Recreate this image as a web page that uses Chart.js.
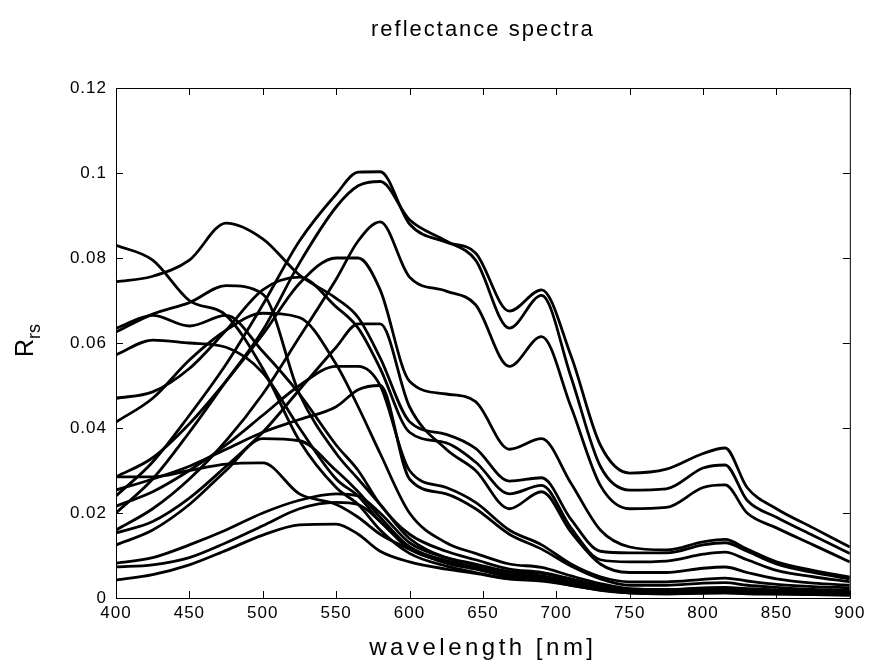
<!DOCTYPE html>
<html>
<head>
<meta charset="UTF-8">
<title>reflectance spectra</title>
<script src="https://cdn.jsdelivr.net/npm/chart.js"></script>
<style>
    body { margin: 0; background: #fff; }
    #wrap { width: 869px; height: 669px; }
</style>
</head>
<body>
<div id="wrap"><canvas id="grafico"></canvas></div>
<script>
// wavelength grid [nm]
const wavelengths = [400,425,450,475,500,525,550,565,580,600,625,645,668,690,710,730,750,775,800,815,830,850,875,900];
const xTicks = [400,450,500,550,600,650,700,750,800,850,900];
const yTicks = [0,0.02,0.04,0.06,0.08,0.1,0.12];

// Rrs spectra
const specA1 = [0.024,0.032,0.043,0.055,0.069,0.084,0.095,0.1002,0.1003,0.088,0.0837,0.0812,0.0675,0.0725,0.057,0.036,0.0294,0.0303,0.034,0.0353,0.026,0.021,0.0165,0.012];
const specA2 = [0.020,0.028,0.039,0.051,0.063,0.0788,0.092,0.097,0.098,0.089,0.084,0.0795,0.0635,0.0712,0.052,0.031,0.0254,0.0257,0.0306,0.0313,0.023,0.019,0.0147,0.0105];
const specA3 = [0.016,0.021,0.028,0.037,0.048,0.0614,0.075,0.084,0.0885,0.0755,0.0722,0.069,0.0545,0.0615,0.045,0.0265,0.021,0.0213,0.026,0.0266,0.020,0.0165,0.0125,0.0085];
const specF = [0.0285,0.033,0.041,0.051,0.062,0.074,0.080,0.080,0.0725,0.051,0.048,0.0462,0.035,0.0375,0.027,0.016,0.012,0.0113,0.0132,0.0138,0.0115,0.0085,0.0065,0.0049];
const specC1 = [0.0744,0.0757,0.0795,0.0882,0.0845,0.076,0.0705,0.066,0.0565,0.0415,0.0385,0.0352,0.0275,0.0283,0.0185,0.011,0.0106,0.0106,0.0125,0.013,0.011,0.008,0.006,0.0045];
const specC2 = [0.047,0.0485,0.054,0.063,0.0725,0.0755,0.0685,0.0635,0.054,0.039,0.0365,0.032,0.0245,0.0265,0.0165,0.009,0.0085,0.0087,0.0103,0.0108,0.009,0.0065,0.005,0.0038];
const specC3 = [0.0153,0.018,0.0235,0.031,0.039,0.049,0.059,0.0645,0.0645,0.045,0.035,0.030,0.021,0.025,0.0155,0.008,0.006,0.006,0.007,0.0073,0.006,0.0045,0.0035,0.003];
const specC4 = [0.0216,0.025,0.030,0.036,0.043,0.050,0.0545,0.0545,0.050,0.030,0.026,0.0225,0.016,0.0125,0.008,0.005,0.0038,0.0038,0.0044,0.0047,0.004,0.0032,0.0027,0.0024];
const specC5 = [0.0254,0.028,0.031,0.035,0.039,0.042,0.045,0.049,0.050,0.028,0.0245,0.021,0.015,0.0115,0.0075,0.0045,0.003,0.003,0.0035,0.0036,0.003,0.0025,0.002,0.0018];
const specB1 = [0.083,0.0795,0.070,0.0665,0.054,0.037,0.026,0.022,0.016,0.0105,0.0075,0.006,0.0045,0.004,0.003,0.0018,0.0012,0.001,0.0011,0.0012,0.001,0.0009,0.0008,0.0007];
const specM1 = [0.0626,0.0668,0.0695,0.0735,0.0715,0.048,0.034,0.028,0.022,0.014,0.0095,0.0078,0.006,0.0052,0.0038,0.0024,0.0015,0.0013,0.0015,0.0016,0.0014,0.0012,0.001,0.0009];
const specM2 = [0.0635,0.0665,0.064,0.0665,0.058,0.048,0.036,0.030,0.022,0.015,0.011,0.009,0.0068,0.006,0.0045,0.003,0.002,0.0018,0.002,0.0021,0.0019,0.0016,0.0014,0.0012];
const specM3 = [0.0572,0.0607,0.060,0.059,0.053,0.040,0.028,0.024,0.018,0.012,0.0085,0.007,0.0052,0.0045,0.0033,0.002,0.0012,0.001,0.0012,0.0012,0.0011,0.001,0.0008,0.0007];
const specM4 = [0.0414,0.047,0.056,0.063,0.067,0.066,0.055,0.045,0.034,0.020,0.013,0.0105,0.008,0.0072,0.0052,0.0034,0.0022,0.002,0.0024,0.0025,0.0022,0.0019,0.0016,0.0014];
const specD1 = [0.0285,0.0285,0.030,0.0315,0.0318,0.0245,0.022,0.019,0.015,0.0115,0.0082,0.0068,0.005,0.0045,0.0032,0.002,0.0013,0.0011,0.0013,0.0014,0.0012,0.0011,0.0009,0.0008];
const specD2 = [0.0082,0.0095,0.0125,0.016,0.020,0.023,0.0245,0.024,0.020,0.013,0.0095,0.008,0.0062,0.0058,0.0042,0.0028,0.002,0.0019,0.0022,0.0023,0.002,0.0018,0.0016,0.0014];
const specD3 = [0.0042,0.0055,0.0078,0.0112,0.0148,0.0172,0.0174,0.015,0.011,0.0085,0.0068,0.0058,0.0045,0.0042,0.003,0.0019,0.0012,0.0011,0.0013,0.0014,0.0012,0.0011,0.001,0.0009];
const specD4 = [0.0073,0.0078,0.0095,0.013,0.017,0.021,0.0225,0.022,0.018,0.0115,0.0085,0.0072,0.0055,0.005,0.0036,0.0023,0.0015,0.0014,0.0016,0.0017,0.0015,0.0013,0.0012,0.001];
const specD5 = [0.0125,0.016,0.022,0.030,0.0375,0.037,0.030,0.025,0.019,0.012,0.0088,0.0072,0.0055,0.005,0.0037,0.0024,0.0016,0.0015,0.0017,0.0018,0.0016,0.0014,0.0012,0.0011];

const spectra = [specA1, specA2, specA3, specF, specC1, specC2, specC3, specC4, specC5,
                 specB1, specM1, specM2, specM3, specM4, specD1, specD2, specD3, specD4, specD5];

const datasets = spectra.map(s => ({
    data: s.map((v, i) => ({ x: wavelengths[i], y: v })),
    borderColor: '#000',
    borderWidth: 2.8,
    pointRadius: 0,
    fill: false,
    cubicInterpolationMode: 'monotone'
}));

// frame, inward ticks, titles
const marco = {
    id: 'marco',
    beforeDraw(chart) {
        // tick labels in the original are spaced out a little
        chart.ctx.letterSpacing = '1px';
    },
    afterDraw(chart) {
        const { ctx, chartArea: a, scales: { x, y } } = chart;
        ctx.save();
        ctx.strokeStyle = '#000';
        ctx.lineWidth = 1;
        ctx.strokeRect(a.left + 0.5, a.top + 0.5, a.right - a.left, a.bottom - a.top);
        ctx.beginPath();
        xTicks.forEach(v => {
            const px = Math.round(x.getPixelForValue(v)) + 0.5;
            ctx.moveTo(px, a.bottom); ctx.lineTo(px, a.bottom - 7);
            ctx.moveTo(px, a.top); ctx.lineTo(px, a.top + 7);
        });
        yTicks.forEach(v => {
            const py = Math.round(y.getPixelForValue(v)) + 0.5;
            ctx.moveTo(a.left, py); ctx.lineTo(a.left + 7, py);
            ctx.moveTo(a.right, py); ctx.lineTo(a.right - 7, py);
        });
        ctx.stroke();

        ctx.fillStyle = '#000';
        ctx.textAlign = 'center';
        ctx.textBaseline = 'middle';
        const cx = (a.left + a.right) / 2;
        ctx.letterSpacing = '2px';
        ctx.font = '22px "Liberation Sans", Arial, sans-serif';
        ctx.fillText('reflectance spectra', cx, 30);
        ctx.letterSpacing = '3.5px';
        ctx.font = '24px "Liberation Sans", Arial, sans-serif';
        ctx.fillText('wavelength [nm]', cx, 648);

        ctx.letterSpacing = '0px';
        ctx.translate(26, 343);
        ctx.rotate(-Math.PI / 2);
        ctx.textAlign = 'left';
        ctx.font = '25px "Liberation Sans", Arial, sans-serif';
        ctx.fillText('R', -14, 0);
        ctx.font = '18px "Liberation Sans", Arial, sans-serif';
        ctx.fillText('rs', 4, 9);
        ctx.restore();
    }
};

const tickFont = { family: '"Liberation Sans", Arial, sans-serif', size: 17 };

new Chart(document.getElementById('grafico'), {
    type: 'line',
    data: { datasets: datasets },
    options: {
        responsive: true,
        maintainAspectRatio: false,
        animation: false,
        devicePixelRatio: 1,
        layout: { padding: { top: 88, right: 17, left: 0, bottom: 0 } },
        plugins: { legend: { display: false }, tooltip: { enabled: false } },
        scales: {
            x: {
                type: 'linear',
                min: 400, max: 900,
                afterFit: s => { s.height = 71; },
                afterBuildTicks: s => { s.ticks = xTicks.map(v => ({ value: v })); },
                grid: { display: false, drawTicks: false },
                border: { display: false },
                ticks: { font: tickFont, color: '#000', padding: 5, maxRotation: 0 }
            },
            y: {
                min: 0, max: 0.12,
                afterFit: s => { s.width = 116; },
                afterBuildTicks: s => { s.ticks = yTicks.map(v => ({ value: v })); },
                grid: { display: false, drawTicks: false },
                border: { display: false },
                ticks: {
                    font: tickFont, color: '#000', padding: 9,
                    callback: v => String(Number(v.toFixed(2)))
                }
            }
        }
    },
    plugins: [marco]
});
</script>
</body>
</html>
